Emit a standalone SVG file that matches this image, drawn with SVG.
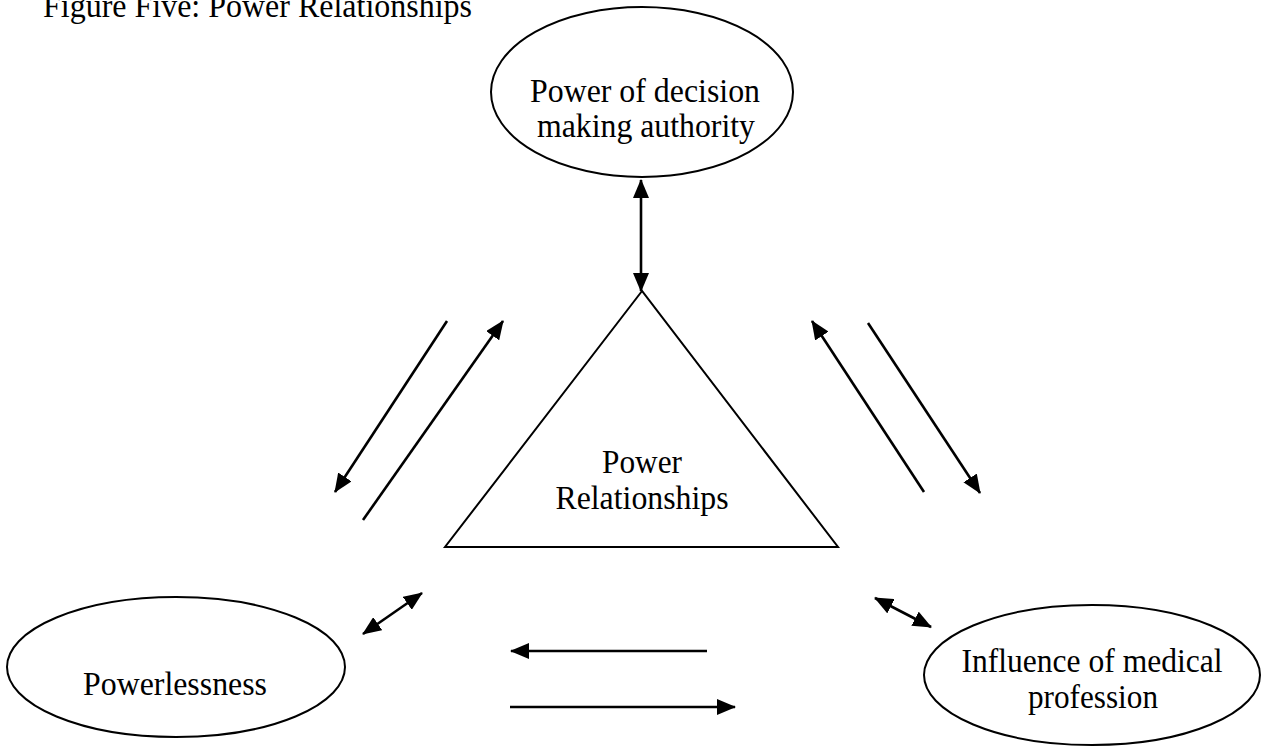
<svg xmlns="http://www.w3.org/2000/svg" width="1261" height="746" viewBox="0 0 1261 746">
  <defs>
    <style>
      .shape { fill: #ffffff; stroke: #000000; stroke-width: 2; }
      .label { font-family: "Liberation Serif", "Times New Roman", serif; font-size: 33px; fill: #000000; text-anchor: middle; }
      .title { font-family: "Liberation Serif", "Times New Roman", serif; font-size: 33px; fill: #000000; }
      .conn { stroke: #000000; stroke-width: 2.6; fill: none; }
    </style>
    <marker id="head" markerUnits="userSpaceOnUse" viewBox="0 0 19 16" markerWidth="19" markerHeight="16" refX="18" refY="8" orient="auto-start-reverse">
      <path d="M0,0 L19,8 L0,16 Z" fill="#000000"/>
    </marker>
  </defs>

  <rect width="1261" height="746" fill="#ffffff"/>

  <text class="title" x="43" y="17" textLength="429" lengthAdjust="spacingAndGlyphs">Figure Five: Power Relationships</text>

  <g id="node-decision">
    <ellipse class="shape" cx="642" cy="92" rx="151" ry="85"/>
    <text class="label" x="645" y="102" textLength="230" lengthAdjust="spacingAndGlyphs">Power of decision</text>
    <text class="label" x="646" y="137" textLength="218" lengthAdjust="spacingAndGlyphs">making authority</text>
  </g>

  <g id="node-power">
    <polygon class="shape" points="642,291 445,547 838,547"/>
    <text class="label" x="642" y="473" textLength="80" lengthAdjust="spacingAndGlyphs">Power</text>
    <text class="label" x="642" y="509" textLength="173" lengthAdjust="spacingAndGlyphs">Relationships</text>
  </g>

  <g id="node-powerlessness">
    <ellipse class="shape" cx="176" cy="667" rx="169" ry="70"/>
    <text class="label" x="175" y="695" textLength="184" lengthAdjust="spacingAndGlyphs">Powerlessness</text>
  </g>

  <g id="node-medical">
    <ellipse class="shape" cx="1092" cy="675" rx="168" ry="70"/>
    <text class="label" x="1092" y="672" textLength="261" lengthAdjust="spacingAndGlyphs">Influence of medical</text>
    <text class="label" x="1093" y="708" textLength="130" lengthAdjust="spacingAndGlyphs">profession</text>
  </g>

  <g id="connectors">
    <!-- decision authority <-> power relationships -->
    <line class="conn" x1="641" y1="180" x2="641" y2="291" marker-start="url(#head)" marker-end="url(#head)"/>
    <!-- left pair -->
    <line class="conn" x1="447" y1="321" x2="335" y2="492" marker-end="url(#head)"/>
    <line class="conn" x1="363" y1="520" x2="503" y2="321" marker-end="url(#head)"/>
    <!-- right pair -->
    <line class="conn" x1="924" y1="492" x2="812" y2="321" marker-end="url(#head)"/>
    <line class="conn" x1="868" y1="323" x2="980" y2="493" marker-end="url(#head)"/>
    <!-- short double-headed links -->
    <line class="conn" x1="363" y1="634" x2="422" y2="593" marker-start="url(#head)" marker-end="url(#head)"/>
    <line class="conn" x1="875" y1="598" x2="931" y2="627" marker-start="url(#head)" marker-end="url(#head)"/>
    <!-- bottom pair -->
    <line class="conn" x1="707" y1="651" x2="511" y2="651" marker-end="url(#head)"/>
    <line class="conn" x1="510" y1="707" x2="735" y2="707" marker-end="url(#head)"/>
  </g>
</svg>
